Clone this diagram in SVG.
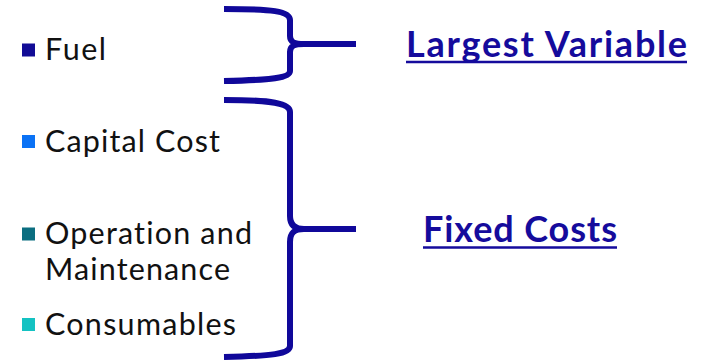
<svg xmlns="http://www.w3.org/2000/svg" width="706" height="361" viewBox="0 0 706 361">
<style>
.item{font-family:Lato,"Liberation Sans",sans-serif;font-size:30.5px;fill:#111111;font-variant-ligatures:none}
.title{font-family:Lato,"Liberation Sans",sans-serif;font-size:36px;font-weight:bold;fill:#150b9c;font-variant-ligatures:none}
.ul{stroke:#150b9c;stroke-width:2.5}
.brace{fill:none;stroke:#10089a;stroke-width:6;stroke-linecap:butt;stroke-linejoin:round}
</style>
<rect width="706" height="361" fill="#ffffff"/>
<g id="item-fuel">
<rect x="22" y="43.5" width="13" height="13" fill="#120c96"/>
<text class="item" x="45" y="60" textLength="61" lengthAdjust="spacing">Fuel</text>
</g>
<g id="item-capital">
<rect x="22" y="135" width="13" height="13" fill="#0a72f5"/>
<text class="item" x="45" y="152" textLength="175" lengthAdjust="spacing">Capital Cost</text>
</g>
<g id="item-om">
<rect x="22" y="227.5" width="13" height="13" fill="#0b6e80"/>
<text class="item" x="45" y="244" textLength="207" lengthAdjust="spacing">Operation and</text>
<text class="item" x="45" y="280" textLength="185" lengthAdjust="spacing">Maintenance</text>
</g>
<g id="item-consumables">
<rect x="22" y="318" width="13" height="13" fill="#14c2c2"/>
<text class="item" x="45" y="335" textLength="191" lengthAdjust="spacing">Consumables</text>
</g>
<g id="connectors">
<path class="brace" d="M224,9 C272,9 290,11 290,20 L290,36 C290,42 294,44 304,44 L356,44 M304,44 C294,44 290,46 290,52 L290,71 C290,78 272,80 224,81"/>
<path class="brace" d="M224,100 C272,100 290,103 290,112 L290,216 C290,224 294,229 304,229 L356,229 M304,229 C294,229 290,233 290,242 L290,346 C290,354 272,356 224,357"/>
</g>
<g id="label-variable">
<text class="title" x="406" y="57" textLength="281" lengthAdjust="spacing">Largest Variable</text>
<line class="ul" x1="406" y1="62" x2="687" y2="62"/>
</g>
<g id="label-fixed">
<text class="title" x="423" y="242" textLength="194" lengthAdjust="spacing">Fixed Costs</text>
<line class="ul" x1="423" y1="247.5" x2="617" y2="247.5"/>
</g>
</svg>
